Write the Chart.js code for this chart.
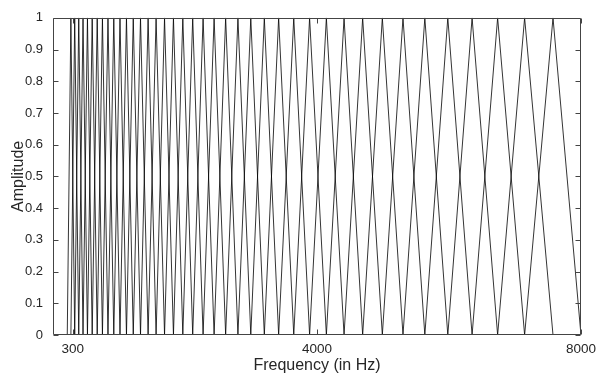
<!DOCTYPE html>
<html>
<head>
<meta charset="utf-8">
<script src="https://cdn.jsdelivr.net/npm/chart.js@4.4.1/dist/chart.umd.min.js"></script>
<style>
  html, body { margin: 0; padding: 0; background: #fff; }
  #wrap { width: 602px; height: 375px; }
</style>
</head>
<body>
<div id="wrap"><canvas id="c" width="602" height="375"></canvas></div>
<script>
// Filter edge / centre frequencies (Hz): filter i spans
// edges[i] -> peak at edges[i+1] -> edges[i+2]
const filterEdgesHz = [216, 271, 329, 390, 455, 522, 594, 670, 749, 833, 921,
  1015, 1113, 1216, 1326, 1441, 1562, 1690, 1825, 1967, 2117, 2274, 2441, 2616,
  2802, 2997, 3202, 3419, 3648, 3888, 4142, 4410, 4692, 4990, 5303, 5634, 5982,
  6350, 6737, 7146, 7576, 8000];
const peakAmplitude = 1;
const baseAmplitude = 0;
const xTickValues = [300, 4000, 8000];
const yTickValues = [0, 0.1, 0.2, 0.3, 0.4, 0.5, 0.6, 0.7, 0.8, 0.9, 1];
const xTitle = 'Frequency (in Hz)';
const yTitle = 'Amplitude';

const datasets = [];
for (let i = 0; i + 2 < filterEdgesHz.length; i++) {
  datasets.push({
    data: [
      { x: filterEdgesHz[i], y: baseAmplitude },
      { x: filterEdgesHz[i + 1], y: peakAmplitude },
      { x: filterEdgesHz[i + 2], y: baseAmplitude }
    ],
    borderColor: '#000',
    borderWidth: 0.8,
    pointRadius: 0,
    fill: false,
    tension: 0
  });
}

const FONT = '"Liberation Sans", Arial, Helvetica, sans-serif';
const TEXT = '#262626';

const boxPlugin = {
  id: 'boxTicks',
  afterDraw(chart) {
    const ctx = chart.ctx;
    const a = chart.chartArea;
    const xs = chart.scales.x, ys = chart.scales.y;
    const L = Math.round(a.left) + 0.5, R = Math.round(a.right) - 0.5;
    const T = Math.round(a.top) + 0.5, B = Math.round(a.bottom) - 0.5;
    ctx.save();
    ctx.strokeStyle = '#444';
    ctx.lineWidth = 1;
    ctx.beginPath();
    ctx.rect(L, T, R - L, B - T);
    const tl = 5;
    xTickValues.forEach(v => {
      const px = Math.round(xs.getPixelForValue(v)) + 0.5;
      ctx.moveTo(px, B); ctx.lineTo(px, B - tl);
      ctx.moveTo(px, T); ctx.lineTo(px, T + tl);
    });
    yTickValues.forEach(v => {
      const py = Math.round(ys.getPixelForValue(v)) + 0.5;
      ctx.moveTo(L, py); ctx.lineTo(L + tl, py);
      ctx.moveTo(R, py); ctx.lineTo(R - tl, py);
    });
    ctx.stroke();
    ctx.restore();
  }
};

new Chart(document.getElementById('c'), {
  type: 'line',
  data: { datasets },
  plugins: [boxPlugin],
  options: {
    responsive: false,
    animation: false,
    devicePixelRatio: 1,
    layout: { padding: { top: 15, right: 15, left: 0, bottom: 0 } },
    plugins: { legend: { display: false }, tooltip: { enabled: false } },
    scales: {
      x: {
        type: 'linear',
        min: 0,
        max: 8000,
        grid: { display: false, drawTicks: false },
        border: { display: false },
        afterBuildTicks: s => { s.ticks = xTickValues.map(v => ({ value: v })); },
        afterFit: s => { s.height = 40; },
        ticks: {
          callback: v => String(v),
          font: { family: FONT, size: 13.5 },
          color: TEXT,
          padding: 6,
          maxRotation: 0,
          autoSkip: false
        },
        title: {
          display: true,
          text: xTitle,
          font: { family: FONT, size: 16 },
          color: TEXT,
          padding: { top: 0, bottom: 0 }
        }
      },
      y: {
        type: 'linear',
        min: 0,
        max: 1,
        grid: { display: false, drawTicks: false },
        border: { display: false },
        afterBuildTicks: s => { s.ticks = yTickValues.map(v => ({ value: v })); },
        afterFit: s => { s.width = 53; },
        ticks: {
          callback: v => String(v),
          font: { family: FONT, size: 13 },
          color: TEXT,
          padding: 10,
          autoSkip: false
        },
        title: {
          display: true,
          text: yTitle,
          font: { family: FONT, size: 16 },
          color: TEXT,
          padding: { top: 9, bottom: 0 }
        }
      }
    }
  }
});
</script>
</body>
</html>
